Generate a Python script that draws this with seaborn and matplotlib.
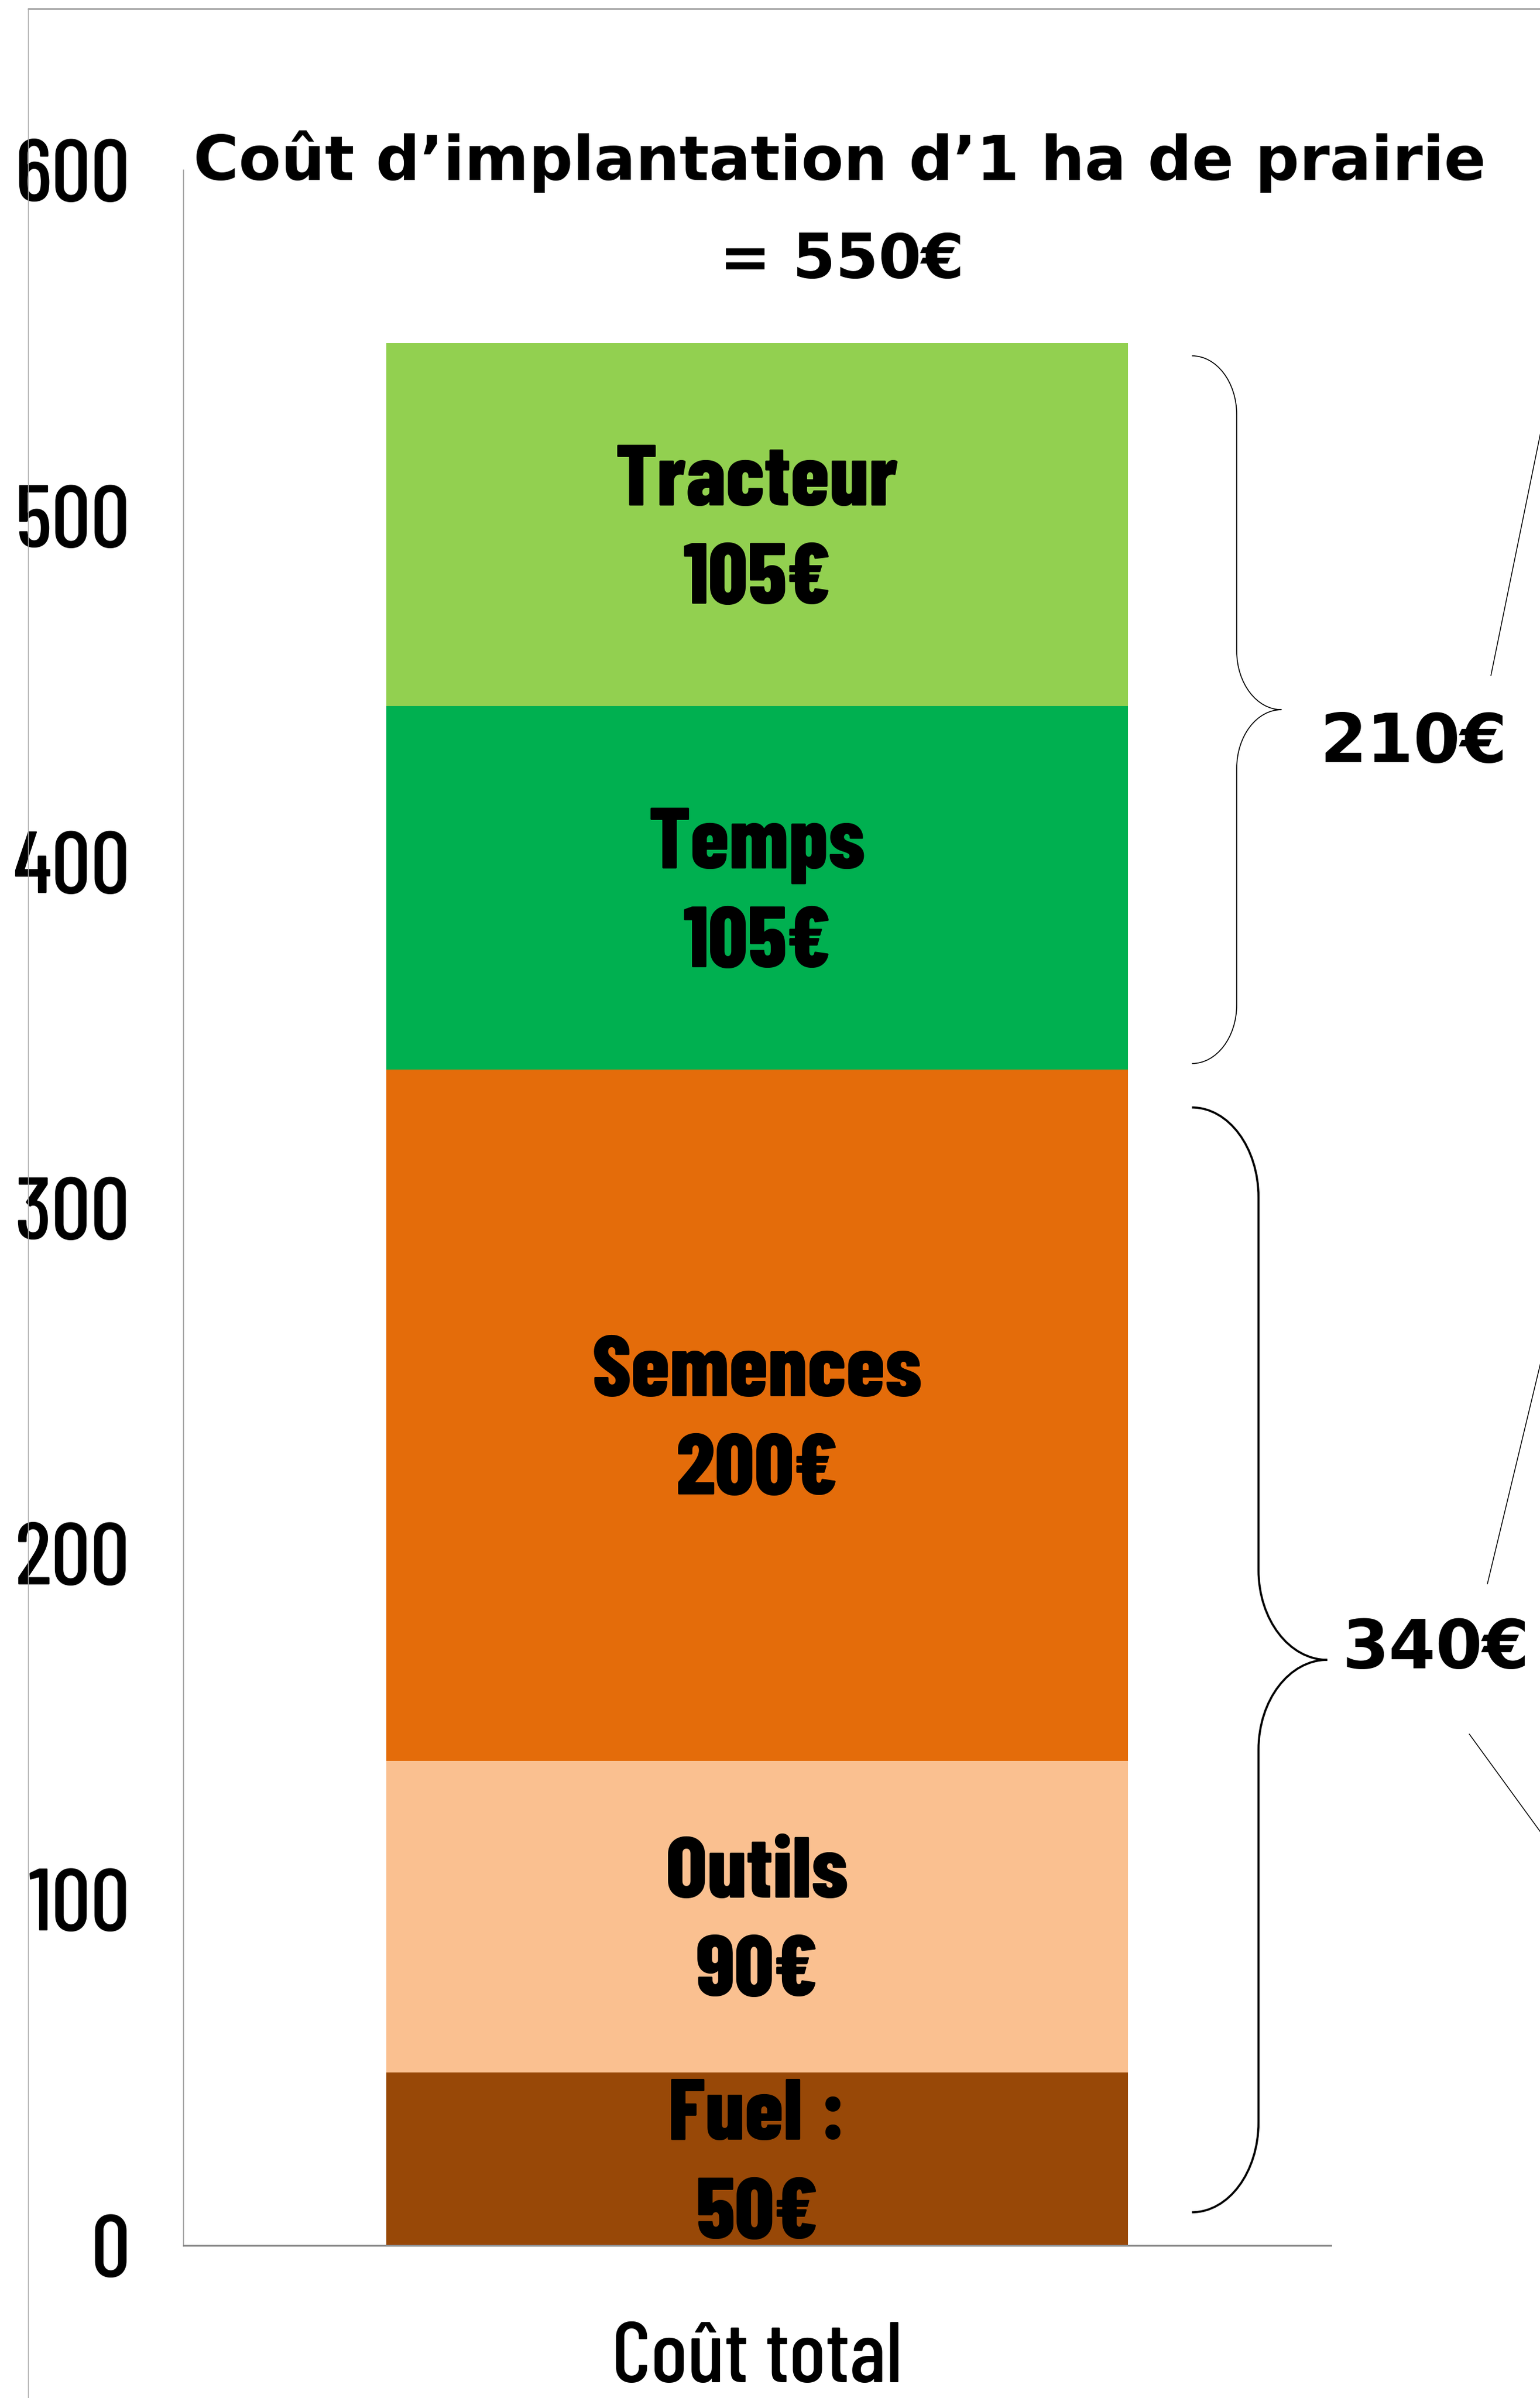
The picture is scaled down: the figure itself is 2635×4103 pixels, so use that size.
import numpy as np
import matplotlib
matplotlib.use("Agg")
import matplotlib.pyplot as plt
import seaborn as sns
from matplotlib import font_manager
from matplotlib.lines import Line2D
from matplotlib.path import Path
from matplotlib.patches import PathPatch

# Données du graphique
postes = ["Fuel :", "Outils", "Semences", "Temps", "Tracteur"]
couts = [50, 90, 200, 105, 105]
couleurs = ["#984807", "#FAC090", "#E46C0A", "#00B050", "#92D050"]
categorie = ["Coût total"]
groupes = ["340€", "210€"]
graduations = [0, 100, 200, 300, 400, 500, 600]
titre = ["Coût d’implantation d’1 ha de prairie", "= 550€"]

W, H = 2635, 4103

sns.set_style("white")
plt.rcParams["font.family"] = ["DejaVu Sans"]
plt.rcParams["text.color"] = "black"
plt.rcParams["xtick.color"] = "black"
plt.rcParams["ytick.color"] = "black"

# police étroite pour les étiquettes
noms = {f.name for f in font_manager.fontManager.ttflist}
etroite = next((n for n in ["Barlow Condensed", "Roboto Condensed"] if n in noms),
               "DejaVu Sans")

fig = plt.figure(figsize=(W / 100, H / 100), dpi=100)
ax = fig.add_axes([314 / W, 1 - 3842 / H, (2277 - 314) / W, (3842 - 291) / H])

# barres empilées : on dessine les cumuls du plus haut au plus bas
cumul = np.cumsum(couts)
bas = cumul - np.array(couts)
for haut, coul in zip(cumul[::-1], couleurs[::-1]):
    sns.barplot(x=categorie, y=[haut], color=coul, saturation=1, width=0.646,
                linewidth=0, ax=ax)

ax.set_xlim(-0.5, 0.5)
ax.set_ylim(0, 600)
ax.set_xlabel("")
ax.set_ylabel("")
ax.set_yticks(graduations, labels=[str(g) for g in graduations],
              fontfamily=etroite, fontsize=108, fontweight=500)
ax.set_xticks([0], labels=categorie, fontfamily=etroite, fontsize=106,
              fontweight=500)
ax.tick_params(axis="y", length=0, pad=66)
ax.tick_params(axis="x", length=0, pad=94)
sns.despine(ax=ax)
ax.spines["left"].set_color("#a0a0a0")
ax.spines["left"].set_linewidth(1.2)
ax.spines["bottom"].set_color("#8c8c8c")
ax.spines["bottom"].set_linewidth(2.2)

# étiquettes dans les segments
for nom, v, b in zip(postes, couts, bas):
    ax.text(0, b + v / 2 - 2.2, f"{nom}\n{v}€", ha="center", va="center",
            fontsize=107, fontweight=800, fontfamily=etroite, linespacing=1.36)


# accolades
def accolade(y0, y1, x0, x1, x2, r, lw):
    k = 0.5523
    ym = (y0 + y1) / 2
    verts = [(x0, y1), (x0 + k * (x1 - x0), y1), (x1, y1 - (1 - k) * r), (x1, y1 - r),
             (x1, ym + r),
             (x1, ym + (1 - k) * r), (x2 - k * (x2 - x1), ym), (x2, ym),
             (x2 - k * (x2 - x1), ym), (x1, ym - (1 - k) * r), (x1, ym - r),
             (x1, y0 + r),
             (x1, y0 + (1 - k) * r), (x0 + k * (x1 - x0), y0), (x0, y0)]
    C, L = Path.CURVE4, Path.LINETO
    codes = [Path.MOVETO, C, C, C, L, C, C, C, C, C, C, L, C, C, C]
    ax.add_patch(PathPatch(Path(verts, codes), fill=False, lw=lw,
                           ec="black", clip_on=False))


accolade(cumul[2] + 1.7, cumul[4] - 3.7, 0.379, 0.418, 0.457, 17, 1.2)
accolade(bas[0] + 9.6, cumul[2] - 11, 0.379, 0.437, 0.497, 26, 2.6)

ax.text(0.491, 428.9, groupes[1], ha="left", va="baseline",
        fontsize=83, fontweight="bold")
ax.text(0.510, 166.9, groupes[0], ha="left", va="baseline",
        fontsize=83, fontweight="bold")

# titre
fig.text(1437 / W, 1 - 308 / H, titre[0], ha="center", va="baseline",
         fontsize=76, fontweight="bold")
fig.text(1440 / W, 1 - 476 / H, titre[1], ha="center", va="baseline",
         fontsize=76, fontweight="bold")

# cadre de la diapositive
fig.add_artist(Line2D([48 / W, 1], [1 - 15 / H] * 2, color="#9a9a9a", lw=1.8))
fig.add_artist(Line2D([48 / W] * 2, [0, 1 - 15 / H], color="#a8a8a8", lw=1.0))

# traits de liaison vers la droite
for xa, ya, xb, yb in [(2551, 1156, 2650, 672), (2545, 2710, 2650, 2274),
                       (2514, 2967, 2650, 3154)]:
    fig.add_artist(Line2D([xa / W, xb / W], [1 - ya / H, 1 - yb / H],
                          color="black", lw=1.1))

fig.savefig("out.png", dpi=100)
